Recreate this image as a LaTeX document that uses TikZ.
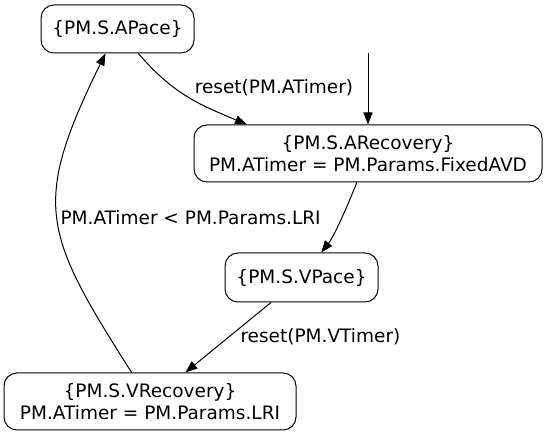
\documentclass[tikz,border=0pt]{standalone}
\usepackage{fontspec}
\setmainfont{DejaVu Sans}
\usepackage{tikz}
\usetikzlibrary{arrows.meta,positioning}

\begin{document}
\begin{tikzpicture}[x=1pt,y=1pt,line width=1pt,
    loc/.style={draw,rounded corners=13pt,align=center,inner sep=0pt,
      font=\fontsize{18.5}{22}\selectfont},
    lbl/.style={font=\fontsize{18.5}{22}\selectfont,inner sep=0pt},
    edge/.style={-{Triangle[length=12pt,width=9pt]}}]
      \useasboundingbox (0,0) rectangle (547,435);
      \node[loc,minimum width=153pt,minimum height=48pt] (APace) at (117.5,406) {\{PM.S.APace\}};
      \node[loc,minimum width=348pt,minimum height=57pt] (ARecovery) at (368,281.5)
        {\{PM.S.ARecovery\}\\ PM.ATimer = PM.Params.FixedAVD};
      \node[loc,minimum width=153pt,minimum height=49pt] (VPace) at (301.5,157.5) {\{PM.S.VPace\}};
      \node[loc,minimum width=292pt,minimum height=57pt] (VRecovery) at (150,33.5)
        {\{PM.S.VRecovery\}\\ PM.ATimer = PM.Params.LRI};
      \coordinate (init) at (368,382);
      \draw[edge] (init) -- (ARecovery);
      \draw[edge] (APace) .. controls (173,341) and (200,330) .. ([xshift=-121pt]ARecovery.north);
      \draw[edge] (ARecovery) .. controls (350,235) and (335,200) .. (VPace);
      \draw[edge] (VPace) -- (VRecovery);
      \draw[edge] (VRecovery) .. controls (43,202) and (31,230) .. (APace);
      \node[lbl] (l_1) at (274,347) {reset(PM.ATimer)};
      \node[lbl,anchor=west] (l_2) at (240,98) {reset(PM.VTimer)};
      \node[lbl,anchor=west] (l_3) at (60,217) {PM.ATimer < PM.Params.LRI};
    \end{tikzpicture}
\end{document}
